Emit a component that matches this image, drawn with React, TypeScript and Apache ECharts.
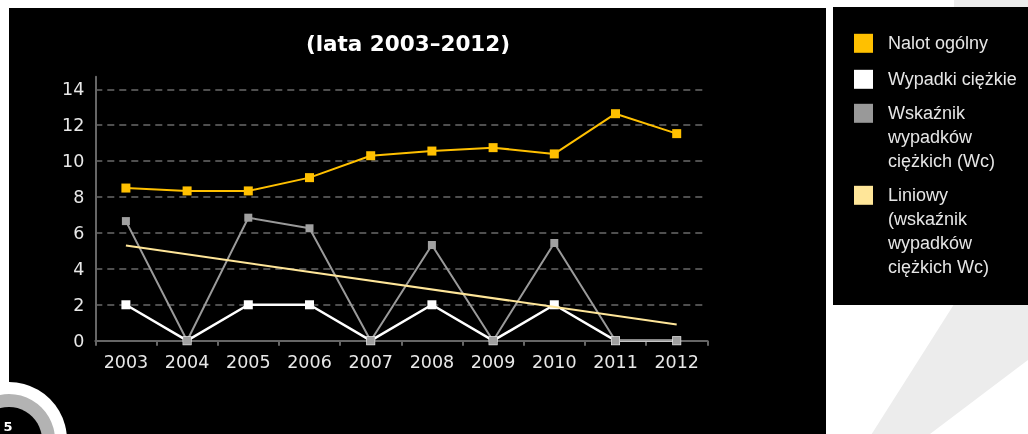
import React, { useEffect, useRef } from "react";
import * as echarts from "echarts";

const years = ["2003", "2004", "2005", "2006", "2007", "2008", "2009", "2010", "2011", "2012"];
const nalotOgolny = [8.5, 8.34, 8.34, 9.08, 10.3, 10.56, 10.75, 10.4, 12.64, 11.53];
const wypadkiCiezkie = [2, 0, 2, 2, 0, 2, 0, 2, 0, 0];
const wskaznikWc = [6.66, 0, 6.85, 6.26, 0, 5.33, 0, 5.44, 0, 0];
const trendWc = [5.3, null, null, null, null, null, null, null, null, 0.9];

const seriesNames = [
  "Nalot ogólny",
  "Wypadki ciężkie",
  "Wskaźnik wypadków ciężkich (Wc)",
  "Liniowy (wskaźnik wypadków ciężkich Wc)",
];
const legendLines = [
  ["Nalot ogólny"],
  ["Wypadki ciężkie"],
  ["Wskaźnik", "wypadków", "ciężkich (Wc)"],
  ["Liniowy", "(wskaźnik", "wypadków", "ciężkich Wc)"],
];
const seriesColors = ["#ffc000", "#ffffff", "#999999", "#ffe699"];
const titleText = "(lata 2003–2012)";

export default function App() {
  const ref = useRef<HTMLDivElement>(null);

  useEffect(() => {
    if (!ref.current) return;
    const chart = echarts.init(ref.current, null, { renderer: "svg" });

    const legendTops = [43.3, 79.3, 113.3, 195.3];
    const legendGraphics: any[] = [];
    legendLines.forEach((lines, i) => {
      legendGraphics.push({
        type: "rect",
        shape: { x: 854, y: legendTops[i] - 9.5, width: 19, height: 19 },
        style: { fill: seriesColors[i] },
        z: 5,
      });
      legendGraphics.push({
        type: "text",
        x: 888,
        y: legendTops[i] - 12,
        style: {
          text: lines.join("\n"),
          fill: "#e6e6e6",
          font: '18px "Liberation Sans"',
          lineHeight: 24,
          verticalAlign: "top",
          align: "left",
        },
        z: 5,
      });
    });

    const option: any = {
      animation: false,
      title: {
        text: titleText,
        left: 408,
        top: 32,
        padding: 0,
        textAlign: "center",
        textStyle: {
          color: "#ffffff",
          fontFamily: "DejaVu Sans",
          fontWeight: "bold",
          fontSize: 21.5,
        },
      },
      graphic: [
        {
          type: "polygon",
          shape: { points: [[956.7, 300], [1028, 300], [1028, 360], [930, 434], [871.7, 434]] },
          style: { fill: "#ececec" },
          z: -10,
        },
        {
          type: "rect",
          shape: { x: 954, y: 0, width: 74, height: 10 },
          style: { fill: "#ececec" },
          z: -10,
        },
        {
          type: "rect",
          shape: { x: 9, y: 8, width: 817, height: 426 },
          style: { fill: "#000000" },
          z: -5,
        },
        {
          type: "rect",
          shape: { x: 833, y: 7, width: 195, height: 298 },
          style: { fill: "#000000" },
          z: -5,
        },
        {
          type: "circle",
          shape: { cx: 9, cy: 440, r: 58 },
          style: { fill: "#ffffff" },
          z: 10,
        },
        {
          type: "circle",
          shape: { cx: 9, cy: 440, r: 46 },
          style: { fill: "#b3b3b3" },
          z: 10,
        },
        {
          type: "circle",
          shape: { cx: 9, cy: 440, r: 33 },
          style: { fill: "#000000" },
          z: 10,
        },
        {
          type: "text",
          x: 8,
          y: 420,
          style: {
            text: "5",
            fill: "#ffffff",
            font: 'bold 13px "DejaVu Sans"',
            align: "center",
            verticalAlign: "top",
          },
          z: 11,
        },
        ...legendGraphics,
      ],
      grid: { left: 95.3, right: 320.7, top: 76.7, bottom: 93.3 },
      xAxis: {
        type: "category",
        data: years,
        boundaryGap: true,
        axisLine: { show: true, lineStyle: { color: "#666666", width: 2 } },
        axisTick: { show: true, length: 5, lineStyle: { color: "#666666", width: 2 } },
        axisLabel: {
          color: "#e8e8e8",
          fontFamily: "DejaVu Sans",
          fontSize: 17.5,
          margin: 12,
        },
        splitLine: { show: false },
      },
      yAxis: {
        type: "value",
        min: 0,
        max: 14.7,
        interval: 2,
        axisLine: { show: true, lineStyle: { color: "#666666", width: 2 } },
        axisTick: { show: false },
        axisLabel: {
          color: "#e8e8e8",
          fontFamily: "DejaVu Sans",
          fontSize: 17.5,
          margin: 11,
          showMaxLabel: false,
        },
        splitLine: {
          show: true,
          showMaxLine: false,
          lineStyle: { color: "#6a6a6a", type: [7, 5], width: 1.5 },
        },
      },
      series: [
        {
          name: seriesNames[0],
          type: "line",
          data: nalotOgolny,
          symbol: "rect",
          symbolSize: 9,
          itemStyle: { color: seriesColors[0] },
          lineStyle: { color: seriesColors[0], width: 2 },
          z: 3,
        },
        {
          name: seriesNames[1],
          type: "line",
          data: wypadkiCiezkie,
          symbol: "rect",
          symbolSize: 9,
          itemStyle: { color: seriesColors[1] },
          lineStyle: { color: seriesColors[1], width: 2.5 },
          z: 3,
        },
        {
          name: seriesNames[2],
          type: "line",
          data: wskaznikWc,
          symbol: "rect",
          symbolSize: 8,
          itemStyle: { color: "#a0a0a0" },
          lineStyle: { color: "#9a9a9a", width: 2 },
          z: 3,
        },
        {
          name: seriesNames[3],
          type: "line",
          data: trendWc,
          connectNulls: true,
          symbol: "none",
          itemStyle: { color: seriesColors[3] },
          lineStyle: { color: seriesColors[3], width: 2 },
          z: 4,
        },
      ],
    };

    chart.setOption(option);
    return () => {
      chart.dispose();
    };
  }, []);

  return (
    <div
      ref={ref}
      style={{ position: "fixed", left: 0, top: 0, width: 1028, height: 434 }}
    />
  );
}
